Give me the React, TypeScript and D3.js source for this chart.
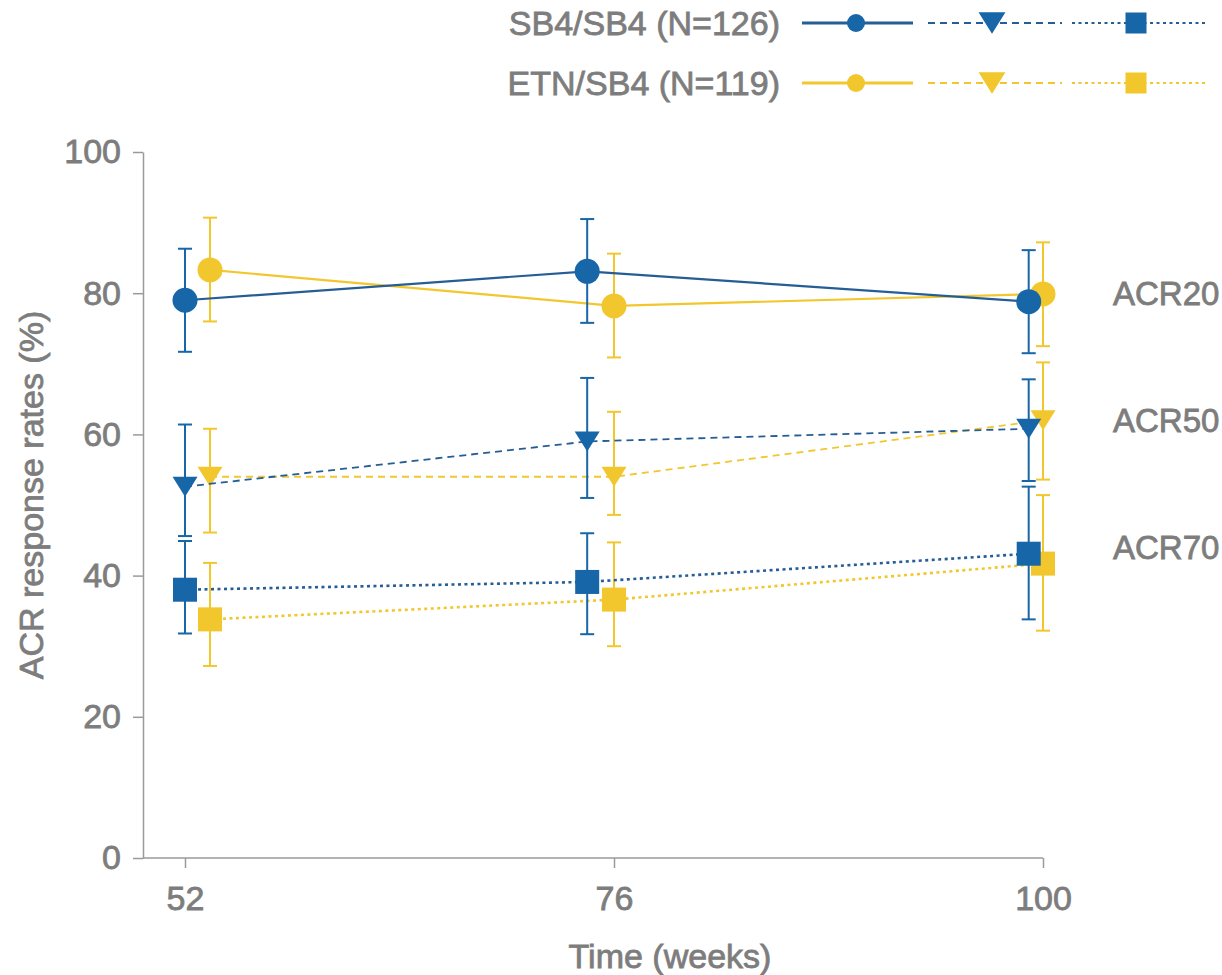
import React, { useEffect, useRef } from "react";
import * as d3 from "d3";

// time points (weeks) and where each group's markers sit (slightly dodged)
const weekTicks = [52, 76, 100];
const sb4Weeks = [52, 74.5, 99.2];
const etnWeeks = [53.4, 76, 100];

// SB4/SB4 group
const sb4Acr20 = [79.0, 83.1, 78.8];
const sb4Acr20Lo = [71.7, 75.8, 71.5];
const sb4Acr20Hi = [86.3, 90.5, 86.1];
const sb4Acr50 = [52.6, 59.0, 60.8];
const sb4Acr50Lo = [45.6, 51.0, 53.4];
const sb4Acr50Hi = [61.4, 68.0, 67.8];
const sb4Acr70 = [38.0, 39.1, 43.1];
const sb4Acr70Lo = [31.8, 31.7, 33.8];
const sb4Acr70Hi = [44.9, 46.0, 52.6];

// ETN/SB4 group
const etnAcr20 = [83.3, 78.2, 79.9];
const etnAcr20Lo = [76.0, 70.9, 72.5];
const etnAcr20Hi = [90.7, 85.6, 87.2];
const etnAcr50 = [54.0, 54.0, 62.0];
const etnAcr50Lo = [46.1, 48.6, 53.6];
const etnAcr50Hi = [60.8, 63.2, 70.2];
const etnAcr70 = [33.8, 36.6, 41.7];
const etnAcr70Lo = [27.2, 30.0, 32.2];
const etnAcr70Hi = [41.8, 44.7, 51.4];

const yTicks = [0, 20, 40, 60, 80, 100];
const groupNames = ["SB4/SB4 (N=126)", "ETN/SB4 (N=119)"];
const endpointNames = ["ACR20", "ACR50", "ACR70"];

const BLUE = "#1766a8";
const BLUE_LINE = "#255d95";
const YELLOW = "#f2c72e";
const GRAY = "#7d7d7d";
const AXIS = "#9a9a9a";
const FONT = "'Liberation Sans', Arial, sans-serif";

// text in the original is a medium weight: regular face with a thin outline
const styleText = (sel: any, size: number) =>
  sel
    .attr("fill", GRAY)
    .attr("stroke", GRAY)
    .attr("stroke-width", 0.8)
    .style("font-size", `${size}px`)
    .style("font-family", FONT);

export default function App() {
  const ref = useRef<SVGSVGElement>(null);

  useEffect(() => {
    const svg = d3.select(ref.current);
    svg.selectAll("*").remove();

    const x = d3.scaleLinear().domain([52, 100]).range([185, 1043]);
    const y = d3.scaleLinear().domain([0, 100]).range([858, 152]);
    const x0 = 143;

    // Y axis
    const yAxis = svg
      .append("g")
      .attr("transform", `translate(${x0},0)`)
      .call(
        d3.axisLeft(y).tickValues(yTicks).tickSize(10).tickSizeOuter(0).tickPadding(12)
      );
    yAxis.select(".domain").attr("stroke", AXIS).attr("stroke-width", 1.5);
    yAxis.selectAll(".tick line").attr("stroke", AXIS).attr("stroke-width", 1.5);
    styleText(yAxis.selectAll(".tick text"), 34);

    // X axis
    const xAxis = svg
      .append("g")
      .attr("transform", `translate(0,${y(0)})`)
      .call(d3.axisBottom(x).tickValues(weekTicks).tickSize(10).tickSizeOuter(0).tickPadding(18));
    xAxis.select(".domain").remove();
    xAxis
      .append("line")
      .attr("x1", x0)
      .attr("x2", x(100))
      .attr("stroke", AXIS)
      .attr("stroke-width", 1.5);
    xAxis.selectAll(".tick line").attr("stroke", AXIS).attr("stroke-width", 1.5);
    styleText(xAxis.selectAll(".tick text"), 34);

    // axis titles
    styleText(
      svg
        .append("text")
        .attr("x", 670)
        .attr("y", 968)
        .attr("text-anchor", "middle"),
      34
    ).text("Time (weeks)");

    styleText(
      svg
        .append("text")
        .attr("transform", `translate(43,${(297 + 693) / 2}) rotate(-90)`)
        .attr("text-anchor", "middle"),
      34
    ).text("ACR response rates (%)");

    const triangle = (w: number, h: number) =>
      `M${-w / 2},${-h / 2}L${w / 2},${-h / 2}L0,${h / 2}Z`;

    const drawMarker = (
      g: d3.Selection<SVGGElement, unknown, null, undefined>,
      shape: string,
      cx: number,
      cy: number,
      color: string,
      size: number
    ) => {
      if (shape === "circle") {
        g.append("circle").attr("cx", cx).attr("cy", cy).attr("r", size / 2).attr("fill", color);
      } else if (shape === "triangle") {
        g.append("path")
          .attr("d", triangle(size, size * 0.8))
          .attr("transform", `translate(${cx},${cy})`)
          .attr("fill", color);
      } else {
        g.append("rect")
          .attr("x", cx - size / 2)
          .attr("y", cy - size / 2)
          .attr("width", size)
          .attr("height", size)
          .attr("fill", color);
      }
    };

    const groups = [
      {
        weeks: etnWeeks,
        color: YELLOW,
        lineColor: YELLOW,
        series: [
          { v: etnAcr20, lo: etnAcr20Lo, hi: etnAcr20Hi },
          { v: etnAcr50, lo: etnAcr50Lo, hi: etnAcr50Hi },
          { v: etnAcr70, lo: etnAcr70Lo, hi: etnAcr70Hi },
        ],
      },
      {
        weeks: sb4Weeks,
        color: BLUE,
        lineColor: BLUE_LINE,
        series: [
          { v: sb4Acr20, lo: sb4Acr20Lo, hi: sb4Acr20Hi },
          { v: sb4Acr50, lo: sb4Acr50Lo, hi: sb4Acr50Hi },
          { v: sb4Acr70, lo: sb4Acr70Lo, hi: sb4Acr70Hi },
        ],
      },
    ];

    const shapes = ["circle", "triangle", "square"];
    const markerSizes = [25, 25, 24];
    const dashes = [null, "7,5", "3,3.5"];
    const widths = [2.2, 1.8, 2.6];

    groups.forEach((grp) => {
      const g = svg.append("g");
      grp.series.forEach((s, si) => {
        const pts = s.v.map((v, i) => [x(grp.weeks[i]), y(v)] as [number, number]);
        g.append("path")
          .attr("d", d3.line()(pts))
          .attr("fill", "none")
          .attr("stroke", grp.lineColor)
          .attr("stroke-width", widths[si])
          .attr("stroke-dasharray", dashes[si]);

        s.v.forEach((_, i) => {
          const cx = x(grp.weeks[i]);
          g.append("line")
            .attr("x1", cx)
            .attr("x2", cx)
            .attr("y1", y(s.lo[i]))
            .attr("y2", y(s.hi[i]))
            .attr("stroke", grp.color)
            .attr("stroke-width", 2);
          [s.lo[i], s.hi[i]].forEach((e) => {
            g.append("line")
              .attr("x1", cx - 7)
              .attr("x2", cx + 7)
              .attr("y1", y(e))
              .attr("y2", y(e))
              .attr("stroke", grp.color)
              .attr("stroke-width", 2);
          });
        });
        s.v.forEach((v, i) => {
          drawMarker(g, shapes[si], x(grp.weeks[i]), y(v), grp.color, markerSizes[si]);
        });
      });
    });

    // endpoint labels on the right
    const labelLevels = [80, 62, 44];
    endpointNames.forEach((name, i) => {
      styleText(
        svg
          .append("text")
          .attr("x", 1113)
          .attr("y", y(labelLevels[i]))
          .attr("dy", "0.36em"),
        33
      ).text(name);
    });

    // legend
    const legendColors = [BLUE, YELLOW];
    const legendLines = [BLUE_LINE, YELLOW];
    const legendRows = [23, 83];
    const segs = [
      { x1: 802, x2: 913, m: 856 },
      { x1: 928, x2: 1062, m: 992 },
      { x1: 1072, x2: 1205, m: 1136 },
    ];
    const legendSizes = [18, 27, 21];
    groupNames.forEach((name, gi) => {
      const ly = legendRows[gi];
      const g = svg.append("g");
      styleText(
        g
          .append("text")
          .attr("x", 780)
          .attr("y", ly)
          .attr("dy", "0.36em")
          .attr("text-anchor", "end"),
        34
      ).text(name);
      segs.forEach((sg, si) => {
        g.append("line")
          .attr("x1", sg.x1)
          .attr("x2", sg.x2)
          .attr("y1", ly)
          .attr("y2", ly)
          .attr("stroke", legendLines[gi])
          .attr("stroke-width", si === 0 ? 3 : 2)
          .attr("stroke-dasharray", dashes[si]);
        drawMarker(g, shapes[si], sg.m, ly, legendColors[gi], legendSizes[si]);
      });
    });
  }, []);

  return (
    <svg
      ref={ref}
      width={1222}
      height={975}
      style={{ position: "absolute", left: 0, top: 0, background: "#fff" }}
    />
  );
}
